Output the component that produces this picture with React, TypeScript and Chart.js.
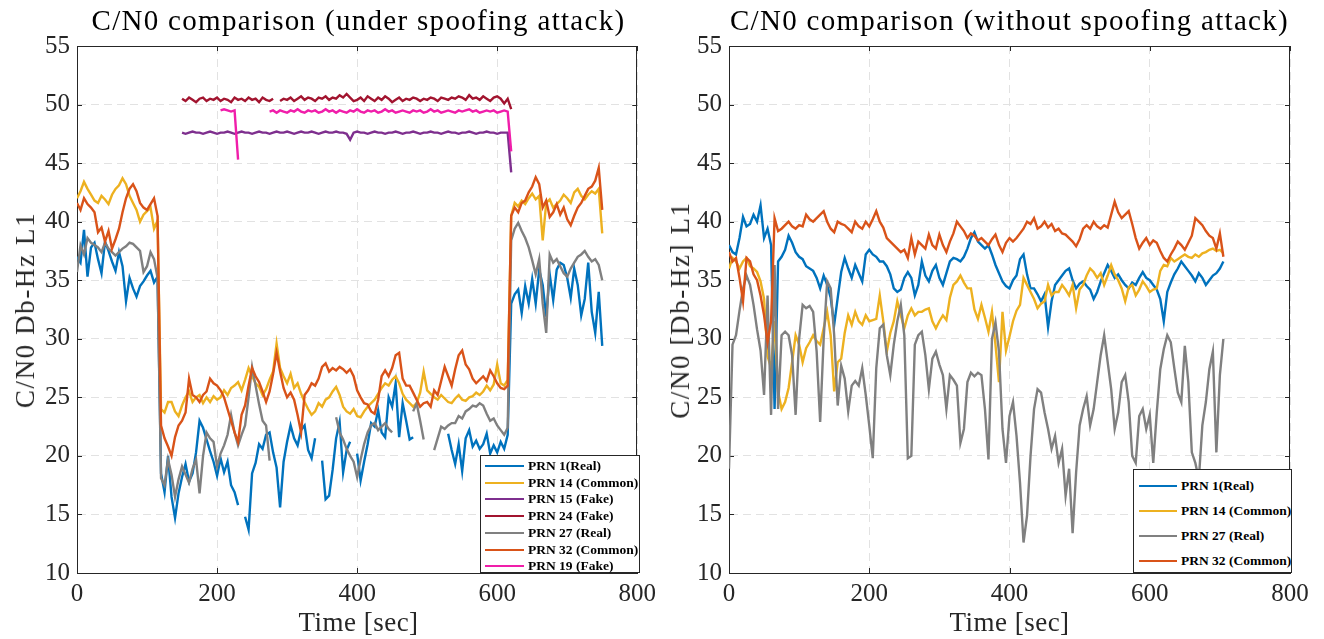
import React, { useEffect, useRef } from 'react';
import { Chart, registerables } from 'chart.js';

Chart.register(...registerables);

// ---------- shared axis / sampling ----------
const STEP = 5; // seconds between samples
const X_TICKS = [0, 200, 400, 600, 800];
const Y_TICKS = [10, 15, 20, 25, 30, 35, 40, 45, 50, 55];

// ---------- LEFT panel: under spoofing attack (samples every 5 s from t=0) ----------
const LEFT_START = 0;
const leftPrn1 = [
  37.0, 36.5, 39.3, 35.3, 37.8, 38.2, 36.8, 35.6, 38.3, 37.5,
  36.6, 35.8, 37.4, 36.2, 33.2, 35.2, 34.3, 33.6, 34.5, 34.9,
  35.4, 35.8, 34.8, 35.3, 18.5, 16.9, 20.0, 16.5, 14.7, 16.8,
  18.2, 19.3, 17.8, 18.5, 20.3, 23.0, 22.4, 21.4, 20.4, 19.5,
  18.3, 19.8, 18.6, 19.5, 17.5, 16.9, 15.8, null, 14.8, 13.7,
  18.5, 19.4, 21.0, 20.6, 21.8, 22.0, 20.3, 19.0, 15.6, 19.5,
  21.2, 22.6, 21.5, 20.9, 22.2, 22.6, 20.5, 19.8, 21.5, null,
  19.6, 16.3, 16.6, 18.8, 21.5, 22.9, 18.6, 20.5, 21.2, null,
  20.2, 17.9, 19.5, 21.0, 22.8, 22.5, 23.9, 22.0, 21.6, 25.0,
  24.2, 26.2, 21.6, 24.5, 23.0, 21.4, 21.6, null, null, null,
  null, null, null, null, null, null, 21.9, 20.5, 19.3, 21.0,
  18.7, 21.5, 22.2, 20.8, 21.3, 20.6, 21.0, 21.9, 20.2, 20.9,
  20.3, 21.2, 20.6, 21.8, 33.0, 33.8, 34.2, 32.2, 34.5, 33.0,
  35.1, 33.0, 35.9, 34.6, 31.9, 35.5, 33.3, 35.9, 36.5, 36.3,
  35.2, 33.5, 36.0, 34.6, 32.0, 33.4, 36.5, 32.3, 30.5, 34.0,
  29.4,
];
const leftPrn14 = [
  42.0, 42.6, 43.4, 42.8, 42.3, 41.8, 41.6, 42.2, 41.9, 41.5,
  42.3, 42.8, 43.1, 43.7, 43.2, 42.2, 41.6, 41.0, 40.0, 40.6,
  40.9, 41.2, 39.4, 40.1, 24.0, 23.7, 24.6, 24.6, 23.8, 23.4,
  24.3, 25.0, 25.5, 24.6, 25.0, 25.2, 24.5, 25.0, 24.6, 25.1,
  24.8, 25.0, 25.6, 25.2, 25.8, 26.0, 26.3, 25.6, 26.5, 27.5,
  26.8, 26.2, 25.9, 25.2, 25.7, 26.5, 27.2, 29.6, 27.5, 26.8,
  26.2, 27.0, 25.8, 26.2, 25.3, 24.6, 24.0, 23.5, 23.8, 24.5,
  24.2, 24.8, 25.0, 25.5, 25.9, 25.2, 24.2, 23.8, 23.6, 24.0,
  23.4, 23.3, 23.8, 24.2, 24.5, 24.8, 25.3, 25.8, 26.2, 26.0,
  26.5, 26.8, 26.2, 25.3, 24.8, 24.5, 24.2, 24.5, 25.4, 27.2,
  25.6, 25.3, 25.0, 24.8, 25.2, 24.9, 24.6, 24.5, 24.9, 25.2,
  24.8, 24.7, 25.0, 25.1, 25.4, 25.2, 25.5, 26.0, 25.6, 26.1,
  27.8, 26.2, 26.0, 26.5, 40.5, 41.6, 41.3, 41.8, 41.5, 42.0,
  42.4, 41.9, 42.2, 38.4, 41.6, 41.9, 41.2, 41.5, 41.8, 42.3,
  42.0, 41.6, 42.5, 42.8, 42.2, 41.9, 42.3, 42.6, 42.4, 42.8,
  39.0,
];
const leftPrn27 = [
  35.7, 38.0, 37.2, 38.6, 38.2, 38.0, 37.8, 37.4, 38.2, 37.7,
  37.4, 37.1, 37.4, 37.7, 37.9, 38.2, 38.1, 37.8, 37.5, 35.7,
  36.2, 37.4, 36.8, 35.2, 18.1, 17.5, 19.7, 18.4, 16.5, 18.0,
  19.1, 18.4, 17.7, 18.9, 19.7, 16.8, 20.0, 22.0, 21.5, 21.2,
  19.1, 20.2, 20.9, 21.8, 23.5, 22.0, 20.9, 21.8, 22.6, 25.0,
  27.6, 26.0, 24.4, 23.0, 22.6, 19.6, null, null, null, null,
  null, null, null, null, null, null, null, null, null, null,
  null, null, null, null, 23.3, 22.0, 21.4, 20.6, 20.0, 19.5,
  18.2, 19.7, 21.0, 22.0, 22.6, 22.8, 22.2, 22.5, 22.8, 22.3,
  22.0, null, null, null, null, null, 23.8, 24.5, 23.0, 21.4,
  null, null, 20.5, 21.5, 22.5, 22.3, 22.6, 22.8, 22.8, 23.4,
  23.2, 23.8, 24.0, 24.3, 24.2, 24.5, 24.3, 23.6, 23.0, 23.2,
  22.6, 22.2, 21.8, 22.4, 38.4, 39.4, 39.9, 39.2, 38.6, 37.8,
  36.7, 35.5, 36.8, 33.0, 30.5, 37.2, 36.5, 36.8, 36.2, 35.6,
  35.3, 36.0, 36.5, 37.0, 37.2, 37.5, 37.0, 36.6, 36.8, 36.3,
  35.0,
];
const leftPrn32 = [
  41.6, 41.0, 42.0, 41.5, 41.2, 40.8, 39.1, 39.5, 38.3, 39.2,
  37.7, 38.5, 39.4, 40.8, 42.0, 42.8, 43.2, 42.6, 41.6, 41.2,
  41.0, 41.5, 42.0, 40.5, 22.6, 21.5, 20.8, 20.0, 21.6, 22.6,
  23.0, 23.7, 26.6, 25.2, 25.0, 24.6, 25.2, 25.5, 26.6, 26.2,
  26.0, 25.6, 25.0, 24.0, 23.0, 22.0, 21.2, 23.5, 24.3, 26.0,
  27.5, 26.8, 26.3, 25.5, 24.6, 25.5, 27.0, 28.8, 27.2, 25.8,
  25.0, 25.4, 24.8, 23.5, 22.0, 25.2, 25.6, 26.2, 26.0, 26.6,
  27.6, 27.9, 27.2, 27.5, 27.3, 27.6, 27.4, 27.1, 27.4, 26.8,
  25.6, 25.0, 24.5, 24.4, 23.8, 23.6, 24.8, 26.8, 27.3, 26.8,
  27.5, 28.6, 28.8, 26.6, 26.0, 26.0, 25.4, 24.8, 24.2, 24.5,
  24.6, 24.2, 25.6, 25.2, 26.4, 27.6, 26.8, 26.0, 27.4, 28.6,
  29.0, 27.8, 27.4, 26.6, 26.2, 26.5, 26.8, 26.4, 27.3, 26.8,
  26.2, 25.8, 25.7, 26.0, 40.5, 41.2, 40.8, 41.6, 41.8, 42.5,
  43.0, 43.8, 43.2, 41.2, 41.8, 40.4, 40.8, 41.5, 40.6, 41.2,
  40.2, 39.7, 40.5, 41.2, 41.6, 42.2, 42.8, 43.0, 43.5, 44.6,
  41.0,
];
// fake satellites (samples every 5 s from t=150)
const FAKE_START = 150;
const leftPrn15 = [
  47.6, 47.5, 47.6, 47.7, 47.6, 47.6, 47.5, 47.6, 47.7, 47.6,
  47.5, 47.6, 47.6, 47.7, 47.6, 47.5, 47.6, 47.7, 47.6, 47.6,
  47.5, 47.6, 47.7, 47.6, 47.6, 47.5, 47.6, 47.7, 47.6, 47.6,
  47.7, 47.6, 47.5, 47.6, 47.7, 47.6, 47.6, 47.7, 47.6, 47.5,
  47.6, 47.7, 47.6, 47.6, 47.7, 47.6, 47.6, 47.5, 47.0, 47.6,
  47.7, 47.6, 47.6, 47.5, 47.6, 47.7, 47.6, 47.6, 47.5, 47.6,
  47.6, 47.7, 47.6, 47.5, 47.6, 47.6, 47.7, 47.6, 47.5, 47.6,
  47.6, 47.7, 47.6, 47.6, 47.5, 47.6, 47.7, 47.6, 47.6, 47.5,
  47.6, 47.6, 47.7, 47.6, 47.5, 47.6, 47.6, 47.7, 47.6, 47.6,
  47.5, 47.6, 47.6, 47.6, 44.2,
];
const leftPrn24 = [
  50.5, 50.3, 50.6, 50.4, 50.2, 50.5, 50.6, 50.3, 50.5, 50.4,
  50.6, 50.3, 50.5, 50.4, 50.2, 50.6, 50.4, 50.5, 50.3, 50.6,
  50.4, 50.5, 50.2, 50.6, 50.4, 50.3, 50.5, null, 50.3, 50.5,
  50.4, 50.6, 50.3, 50.5, 50.7, 50.4, 50.6, 50.5, 50.3, 50.6,
  50.5, 50.7, 50.4, 50.6, 50.5, 50.8, 50.6, 50.9, 50.6, 50.3,
  50.4, 50.6, 50.3, 50.7, 50.5, 50.3, 50.6, 50.4, 50.7, 50.5,
  50.2, 50.4, 50.6, 50.3, 50.5, 50.4, 50.6, 50.5, 50.3, 50.5,
  50.4, 50.6, 50.5, 50.3, 50.6, 50.5, 50.4, 50.6, 50.5, 50.7,
  50.6, 50.4, 50.8, 50.5, 50.6, 50.4, 50.7, 50.5, 50.3, 50.6,
  50.7, 50.5, 50.1, 50.5, 49.6,
];
const PRN19_START = 205;
const leftPrn19 = [
  49.5, 49.6, 49.5, 49.4, 49.5, 45.3,
  null, null, null, null, null, null, null, null,
  49.4, 49.5, 49.3, 49.5, 49.4, 49.3, 49.5, 49.4, 49.6, 49.4,
  49.3, 49.5, 49.4, 49.5, 49.3, 49.4, 49.6, 49.4, 49.5, 49.3,
  49.5, 49.4, 49.3, 49.5, 49.4, 49.6, 49.4, 49.3, 49.5, 49.4,
  49.5, 49.3, 49.4, 49.6, 49.4, 49.5, 49.3, 49.4, 49.5, 49.4,
  49.3, 49.5, 49.4, 49.5, 49.3, 49.4, 49.6, 49.4, 49.5, 49.3,
  49.4, 49.5, 49.4, 49.3, 49.5, 49.4, 49.5, 49.6, 49.4, 49.5,
  49.3, 49.4, 49.5, 49.4, 49.5, 49.3, 49.4, 49.5, 49.4,
  46.0,
];

// ---------- RIGHT panel: without spoofing attack (samples every 5 s from t=0) ----------
const RIGHT_START = 0;
const rightPrn1 = [
  38.0, 37.4, 37.2, 38.6, 40.4, 39.6, 39.8, 40.6, 40.0, 41.4,
  38.6, 39.4, 38.0, 24.0, 36.6, 37.0, 37.6, 38.8, 38.2, 37.4,
  37.0, 36.8, 36.2, 36.0, 35.8, 35.2, 34.3, 35.4, 34.6, 33.5,
  31.2, 33.5, 35.7, 36.9, 36.0, 35.2, 36.3, 35.6, 34.9, 37.2,
  37.6, 37.2, 37.0, 36.6, 36.6, 36.2, 35.5, 34.3, 34.0, 34.2,
  35.2, 35.7, 35.2, 33.7, 34.6, 36.6, 35.4, 34.9, 35.8, 36.3,
  35.2, 34.6, 35.6, 36.6, 36.9, 36.8, 36.6, 37.0, 37.7, 38.6,
  39.1, 38.3, 38.0, 37.7, 38.0, 37.2, 36.3, 35.6, 34.9, 34.5,
  34.3, 35.0, 35.4, 36.8, 37.2, 35.5, 34.3, 34.3, 33.8, 33.2,
  33.8, 31.0, 33.2, 34.6, 35.0, 35.4, 35.8, 36.0, 35.0, 34.3,
  34.7, 34.9, 34.5, 34.2, 33.4, 34.0, 34.9, 35.6, 36.3, 35.8,
  35.2, 35.5, 35.0, 34.6, 34.3, 34.8, 34.6, 35.2, 35.7, 35.2,
  35.0, 34.6, 34.2, 33.4, 31.5, 34.0, 34.8, 35.5, 36.0, 36.6,
  36.2, 35.8, 35.4, 34.9, 35.6, 35.2, 34.6, 35.0, 35.4, 35.6,
  36.0, 36.6,
];
const rightPrn14 = [
  36.0, 36.9, 36.6, 36.0, 36.6, 36.9, 36.2, 36.0, 35.7, 34.9,
  33.4, 28.5, 27.5, 31.5, 25.5, 24.0, 24.6, 25.8, 28.0, 30.3,
  29.5, 28.0, 29.2, 29.7, 30.3, 29.8, 29.5, 30.9, 32.3, 30.3,
  25.5, 28.0, 28.3, 30.5, 32.0, 31.2, 32.3, 31.5, 31.2, 32.0,
  31.5, 31.6, 31.7, 33.7, 31.5, 28.9, 30.5, 31.5, 33.2, 32.0,
  30.9, 32.0, 32.6, 32.0, 32.3, 32.3, 32.5, 32.6, 31.5, 30.9,
  31.5, 32.0, 31.6, 33.5, 34.6, 34.9, 35.4, 34.8, 34.3, 34.3,
  32.5, 31.7, 32.9, 31.8, 30.6, 32.3, 29.5, 26.3, 32.3, 29.0,
  30.2, 31.5, 32.4, 32.9, 35.2, 34.6, 34.0, 33.4, 32.6, 33.0,
  33.2, 34.6, 33.7, 34.0, 34.0, 34.6, 34.2, 33.7, 34.6, 32.6,
  34.2, 34.6, 35.4, 36.0, 35.7, 35.2, 35.6, 34.6, 35.4, 36.3,
  35.5, 35.0, 34.3, 33.2, 34.4, 34.6, 33.7, 34.2, 34.9, 34.5,
  34.0, 34.2, 34.3, 35.8, 36.3, 36.2, 36.9, 36.6, 36.8, 37.0,
  37.2, 37.0, 36.9, 37.2, 37.0, 37.3, 37.4, 37.6, 37.7, 37.5,
  37.6, 37.3,
];
const rightPrn27 = [
  18.9, 29.5, 30.3, 32.4, 34.3, 35.4, 34.6, 32.9, 30.8, 29.0,
  25.2, 33.7, 23.5, 36.3, 24.0, 30.3, 30.6, 30.3, 28.6, 23.5,
  30.0, 32.9, 32.6, 32.8, 32.3, 28.9, 22.9, 30.0, 34.9, 34.3,
  30.3, 24.3, 27.7, 26.6, 23.8, 26.0, 26.4, 26.0, 27.5, 25.2,
  22.6, 19.8, 27.5, 30.9, 31.2, 28.6, 26.9, 29.5, 31.5, 32.9,
  30.3, 19.8, 20.0, 29.5, 30.3, 30.6, 28.6, 25.7, 28.3, 28.9,
  27.8, 26.9, 24.0, 26.9, 26.5, 26.0, 21.1, 22.3, 26.3, 27.1,
  26.8, 27.1, 26.9, 24.0, 19.7, 30.0, 31.4, 28.9, 22.3, 19.4,
  23.4, 24.6, 21.7, 17.7, 12.6, 14.9, 20.0, 24.0, 25.7, 25.4,
  23.7, 22.3, 20.6, 21.7, 19.4, 20.6, 16.6, 18.9, 13.4, 18.6,
  22.6, 24.0, 25.1, 22.6, 24.0, 26.3, 28.6, 30.3, 28.0, 25.7,
  22.3, 23.7, 26.3, 26.9, 24.6, 20.0, 19.4, 23.4, 24.0, 22.3,
  23.5, 19.4, 23.7, 27.4, 29.1, 30.3, 29.7, 27.5, 25.4, 24.6,
  29.4, 26.3, 20.3, 19.4, 18.0, 22.6, 24.6, 27.4, 28.9, 20.3,
  26.9, 30.0,
];
const rightPrn32 = [
  37.4, 36.6, 36.9, 35.2, 33.2, 36.9, 36.6, 35.5, 35.0, 33.7,
  32.0, 29.7, 31.5, 40.3, 39.2, 39.4, 39.7, 40.0, 39.6, 39.4,
  39.7, 39.6, 40.6, 40.2, 40.0, 40.3, 40.6, 40.9, 40.0, 39.4,
  39.1, 40.0, 39.8, 39.7, 39.4, 39.1, 40.0, 39.6, 39.4, 40.0,
  39.6, 40.2, 40.9, 40.0, 39.5, 38.6, 38.3, 38.0, 37.7, 37.4,
  37.6, 36.9, 38.6, 37.2, 38.3, 38.0, 37.7, 38.9, 38.0, 37.7,
  38.9, 38.0, 37.4, 38.3, 39.0, 40.0, 39.6, 39.2, 38.6, 39.0,
  38.8, 38.4, 38.6, 38.3, 38.0, 38.5, 38.9, 38.0, 37.4, 38.2,
  38.6, 38.3, 38.6, 39.0, 39.4, 40.0, 39.8, 40.3, 39.4, 39.6,
  40.0, 39.5, 39.8, 39.2, 39.4, 39.0, 38.9, 38.6, 38.3, 37.9,
  38.5, 39.4, 39.7, 39.4, 40.0, 39.6, 39.4, 39.7, 39.5, 40.6,
  41.7, 40.8, 40.3, 40.6, 40.9, 39.8, 38.6, 37.7, 38.2, 38.6,
  38.0, 38.4, 38.2, 37.5, 36.9, 36.6, 37.2, 37.7, 38.3, 38.0,
  37.6, 38.2, 38.8, 40.3, 40.0, 39.7, 39.2, 38.8, 38.6, 37.7,
  39.0, 37.0,
];

// ---------- styling ----------
const C = {
  blue: '#0072BD',
  yellow: '#EDB120',
  purple: '#7E2F8E',
  darkred: '#A2142F',
  grey: '#808080',
  orange: '#D95319',
  magenta: '#F01EAA',
};
const FONT = "'Liberation Serif', 'Times New Roman', serif";
const AXIS = '#262626';
const H = 639;
const CHART_TOP = 46;
const CHART_BOTTOM = 573;

type Series = { label: string; color: string; start: number; values: (number | null)[] };

const leftSeries: Series[] = [
  { label: 'PRN 1(Real)', color: C.blue, start: LEFT_START, values: leftPrn1 },
  { label: 'PRN 14 (Common)', color: C.yellow, start: LEFT_START, values: leftPrn14 },
  { label: 'PRN 15 (Fake)', color: C.purple, start: FAKE_START, values: leftPrn15 },
  { label: 'PRN 24 (Fake)', color: C.darkred, start: FAKE_START, values: leftPrn24 },
  { label: 'PRN 27 (Real)', color: C.grey, start: LEFT_START, values: leftPrn27 },
  { label: 'PRN 32 (Common)', color: C.orange, start: LEFT_START, values: leftPrn32 },
  { label: 'PRN 19 (Fake)', color: C.magenta, start: PRN19_START, values: leftPrn19 },
];
const rightSeries: Series[] = [
  { label: 'PRN 1(Real)', color: C.blue, start: RIGHT_START, values: rightPrn1 },
  { label: 'PRN 14 (Common)', color: C.yellow, start: RIGHT_START, values: rightPrn14 },
  { label: 'PRN 27 (Real)', color: C.grey, start: RIGHT_START, values: rightPrn27 },
  { label: 'PRN 32 (Common)', color: C.orange, start: RIGHT_START, values: rightPrn32 },
];

const toPoints = (start: number, vals: (number | null)[]) =>
  vals.map((v, i) => ({ x: start + i * STEP, y: v }));

// MATLAB-like box with inward ticks
const boxPlugin = {
  id: 'matlabBox',
  beforeDatasetsDraw(chart: any) {
    const { ctx, chartArea, scales } = chart;
    const { left, right, top, bottom } = chartArea;
    ctx.save();
    ctx.strokeStyle = AXIS;
    ctx.lineWidth = 1;
    ctx.beginPath();
    ctx.moveTo(Math.round(left) + 0.5, Math.round(top) + 0.5);
    ctx.lineTo(Math.round(right) - 0.5, Math.round(top) + 0.5);
    ctx.lineTo(Math.round(right) - 0.5, Math.round(bottom) - 0.5);
    ctx.stroke();
    const TL = 5;
    ctx.beginPath();
    scales.x.ticks.forEach((t: any) => {
      const px = Math.round(scales.x.getPixelForValue(t.value)) + 0.5;
      ctx.moveTo(px, bottom);
      ctx.lineTo(px, bottom - TL);
      ctx.moveTo(px, top);
      ctx.lineTo(px, top + TL);
    });
    scales.y.ticks.forEach((t: any) => {
      const py = Math.round(scales.y.getPixelForValue(t.value)) + 0.5;
      ctx.moveTo(left, py);
      ctx.lineTo(left + TL, py);
      ctx.moveTo(right, py);
      ctx.lineTo(right - TL, py);
    });
    ctx.stroke();
    ctx.restore();
  },
};

type LegendBox = { left: number; top: number; width: number; height: number; firstRow: number; rowGap: number; lineLeft: number; lineW: number; fontSize: number };

function Legend({ items, box }: { items: Series[]; box: LegendBox }) {
  return (
    <div
      style={{
        position: 'absolute',
        left: box.left,
        top: box.top,
        width: box.width,
        height: box.height,
        border: `1px solid ${AXIS}`,
        background: '#fff',
        boxSizing: 'border-box',
      }}
    >
      {items.map((it, i) => (
        <div
          key={it.label}
          style={{
            position: 'absolute',
            left: box.lineLeft,
            top: Math.round(box.firstRow + i * box.rowGap) - 10,
            height: 20,
            display: 'flex',
            alignItems: 'center',
            whiteSpace: 'nowrap',
          }}
        >
          <span style={{ display: 'inline-block', width: box.lineW, height: 2, background: it.color }} />
          <span
            style={{
              marginLeft: 4,
              fontFamily: FONT,
              fontWeight: 'bold',
              fontSize: box.fontSize,
              color: '#000',
              lineHeight: '20px',
            }}
          >
            {it.label}
          </span>
        </div>
      ))}
    </div>
  );
}

type PanelProps = {
  left: number;
  width: number;
  chartLeft: number;
  chartRight: number;
  title: string;
  yTitle: string;
  yTitleX: number;
  series: Series[];
  legend: LegendBox;
};

function Panel(p: PanelProps) {
  const ref = useRef<HTMLCanvasElement>(null);
  useEffect(() => {
    const n = p.series.length;
    const chart = new Chart(ref.current as HTMLCanvasElement, {
      type: 'line',
      data: {
        datasets: p.series.map((s, i) => ({
          label: s.label,
          data: toPoints(s.start, s.values),
          borderColor: s.color,
          backgroundColor: s.color,
          borderWidth: 2.4,
          pointRadius: 0,
          tension: 0,
          spanGaps: false,
          fill: false,
          order: n - i,
        })),
      },
      options: {
        animation: false,
        responsive: false,
        events: [],
        layout: { padding: { left: 0, right: p.width - p.chartRight, top: CHART_TOP, bottom: 0 } },
        plugins: {
          legend: { display: false },
          tooltip: { enabled: false },
          title: { display: false },
        },
        scales: {
          x: {
            type: 'linear',
            min: 0,
            max: 800,
            afterBuildTicks: (s: any) => {
              s.ticks = X_TICKS.map((v) => ({ value: v }));
            },
            afterFit: (s: any) => {
              s.height = H - CHART_BOTTOM;
            },
            grid: { color: '#e2e2e2', lineWidth: 1, drawTicks: false },
            border: { display: true, color: AXIS, width: 1, dash: [8, 5] },
            ticks: { color: AXIS, font: { family: FONT, size: 25 }, padding: 6, maxRotation: 0 },
            title: { display: false },
          },
          y: {
            type: 'linear',
            min: 10,
            max: 55,
            afterBuildTicks: (s: any) => {
              s.ticks = Y_TICKS.map((v) => ({ value: v }));
            },
            afterFit: (s: any) => {
              s.width = p.chartLeft;
            },
            grid: { color: '#e2e2e2', lineWidth: 1, drawTicks: false },
            border: { display: true, color: AXIS, width: 1, dash: [8, 5] },
            ticks: { color: AXIS, font: { family: FONT, size: 25 }, padding: 7 },
            title: { display: false },
          },
        },
      } as any,
      plugins: [boxPlugin],
    });
    return () => chart.destroy();
  }, []);
  const cx = (p.chartLeft + p.chartRight) / 2;
  const cy = (CHART_TOP + CHART_BOTTOM) / 2;
  return (
    <div style={{ position: 'absolute', left: p.left, top: 0, width: p.width, height: H }}>
      <canvas ref={ref} width={p.width} height={H} style={{ display: 'block' }} />
      {/* panel title */}
      <div
        style={{
          position: 'absolute',
          left: p.chartLeft - 40,
          width: p.chartRight - p.chartLeft + 80,
          top: 3,
          textAlign: 'center',
          fontFamily: FONT,
          fontSize: 29,
          lineHeight: '34px',
          letterSpacing: '1.3px',
          color: '#000',
          whiteSpace: 'nowrap',
        }}
      >
        {p.title}
      </div>
      {/* x axis title */}
      <div
        style={{
          position: 'absolute',
          left: cx - 150,
          width: 300,
          top: 606,
          textAlign: 'center',
          fontFamily: FONT,
          fontSize: 27,
          lineHeight: '32px',
          letterSpacing: '0.5px',
          color: AXIS,
          whiteSpace: 'nowrap',
        }}
      >
        Time [sec]
      </div>
      {/* y axis title */}
      <div
        style={{
          position: 'absolute',
          left: p.yTitleX,
          top: cy,
          transform: 'translate(-50%, -50%) rotate(-90deg)',
          fontFamily: FONT,
          fontSize: 27,
          lineHeight: '32px',
          letterSpacing: '1.6px',
          color: AXIS,
          whiteSpace: 'nowrap',
        }}
      >
        {p.yTitle}
      </div>
      <Legend items={p.series} box={p.legend} />
    </div>
  );
}

export default function App() {
  return (
    <div style={{ position: 'fixed', left: 0, top: 0, width: 1324, height: H, background: '#fff', overflow: 'hidden' }}>
      <Panel
        left={0}
        width={662}
        chartLeft={77}
        chartRight={640}
        title="C/N0 comparison (under spoofing attack)"
        yTitle="C/N0 Db-Hz L1"
        yTitleX={25}
        series={leftSeries}
        legend={{ left: 480, top: 455, width: 160, height: 118, firstRow: 10, rowGap: 16.7, lineLeft: 4, lineW: 39, fontSize: 13.5 }}
      />
      <Panel
        left={662}
        width={662}
        chartLeft={67}
        chartRight={628}
        title="C/N0 comparison (without spoofing attack)"
        yTitle="C/N0 [Db-Hz] L1"
        yTitleX={18}
        series={rightSeries}
        legend={{ left: 471, top: 469, width: 159, height: 104, firstRow: 16, rowGap: 25, lineLeft: 5, lineW: 38, fontSize: 13.5 }}
      />
    </div>
  );
}
